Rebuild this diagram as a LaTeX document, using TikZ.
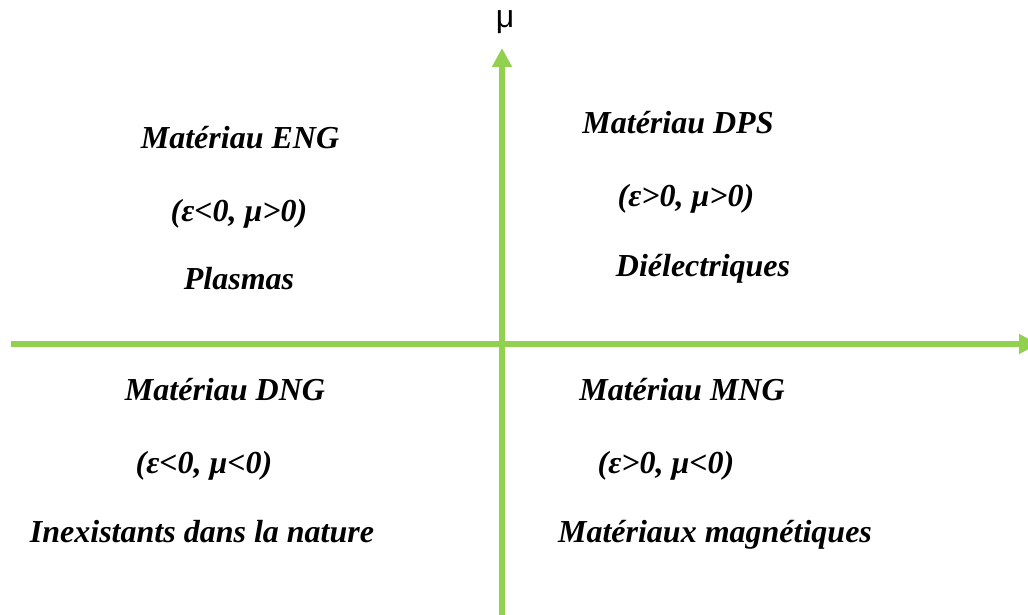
\documentclass[tikz,border=0pt]{standalone}
\usepackage{fontspec}
\setmainfont{Liberation Serif}
\newfontfamily\axisfont{Liberation Sans}
\usetikzlibrary{arrows.meta}
\definecolor{axisgreen}{HTML}{92D050}
\begin{document}
\begin{tikzpicture}[x=1pt,y=-1pt,
  axisline/.style={draw=axisgreen,line width=5.5pt,-{Triangle[length=19pt,width=19pt]}},
  lbl/.style={inner sep=0pt,anchor=base,font=\fontsize{32}{38}\selectfont\bfseries\itshape},
  axislbl/.style={inner sep=0pt,anchor=base,font=\fontsize{32}{38}\selectfont\axisfont}]
\useasboundingbox (0,0) rectangle (1028,615);
\clip (0,0) rectangle (1028,615);
\coordinate (xs) at (11,344);
\coordinate (xe) at (1038,344);
\coordinate (ys) at (502,620);
\coordinate (ye) at (502,48);
\draw[axisline] (xs) -- (xe);
\draw[axisline] (ys) -- (ye);
\node[axislbl] (mu) at (505,28) {μ};
% top left
\node[lbl] (eng1) at (240,149) {Matériau ENG};
\node[lbl] (eng2) at (239,221) {(ε<0, μ>0)};
\node[lbl] (eng3) at (239,289) {Plasmas};
% top right
\node[lbl] (dps1) at (678,134) {Matériau DPS};
\node[lbl] (dps2) at (686,206) {(ε>0, μ>0)};
\node[lbl] (dps3) at (703,276) {Diélectriques};
% bottom left
\node[lbl] (dng1) at (225,400) {Matériau DNG};
\node[lbl] (dng2) at (204,473) {(ε<0, μ<0)};
\node[lbl] (dng3) at (202,542) {Inexistants dans la nature};
% bottom right
\node[lbl] (mng1) at (682,400) {Matériau MNG};
\node[lbl] (mng2) at (666,473) {(ε>0, μ<0)};
\node[lbl] (mng3) at (715,542) {Matériaux magnétiques};
\end{tikzpicture}
\end{document}
